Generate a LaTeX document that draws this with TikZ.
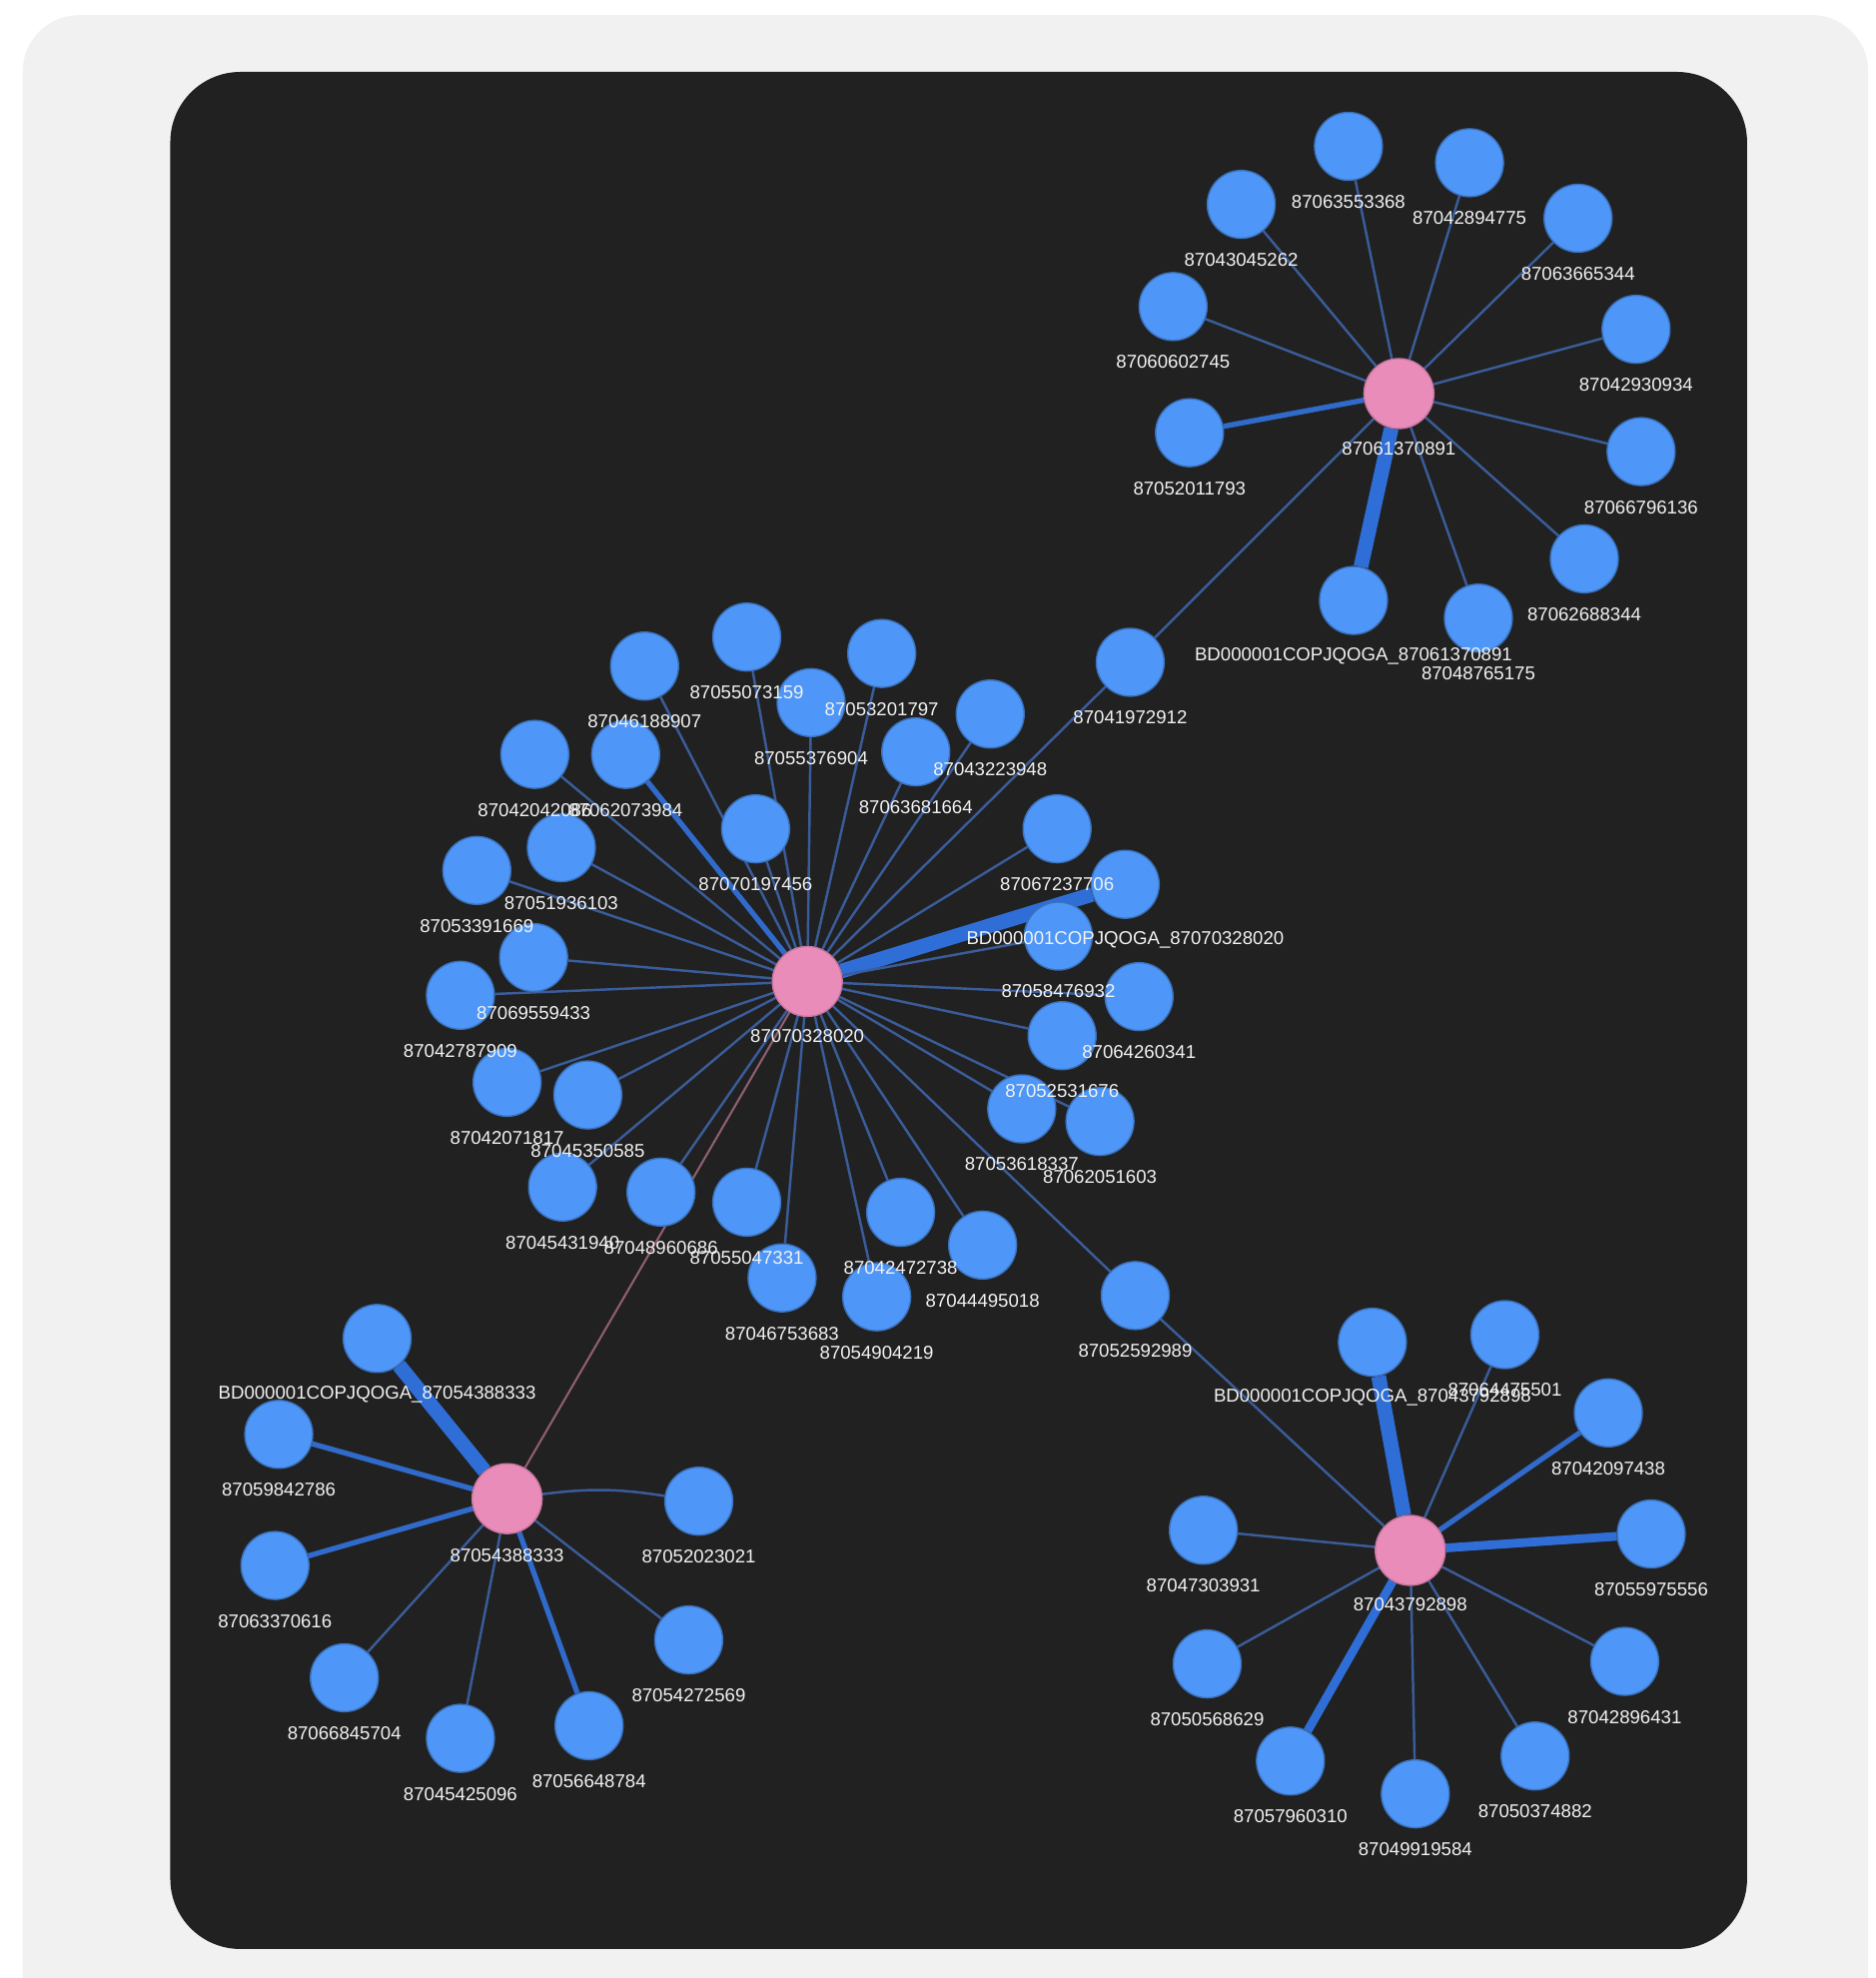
\documentclass[tikz,border=0pt]{standalone}
\usepackage{fontspec}
\setmainfont{Liberation Sans}
\usepackage{xcolor}

\definecolor{pagegray}{HTML}{F1F1F1}
\definecolor{panel}{HTML}{212121}
\definecolor{leafblue}{HTML}{4E96F8}
\definecolor{hubpink}{HTML}{E98CBA}
\definecolor{linkdim}{HTML}{3A5C99}
\definecolor{linkblue}{HTML}{2E6ED6}
\definecolor{linkrose}{HTML}{8E5F70}

\pgfdeclarelayer{bg}
\pgfdeclarelayer{links}
\pgfdeclarelayer{text}
\pgfsetlayers{bg,links,main,text}

\begin{document}
\begin{tikzpicture}[
  x=0.01263cm, y=-0.01263cm,
  leaf/.style={circle, fill=leafblue, draw=leafblue!75!black, line width=0.4pt,
               minimum size=0.68cm, inner sep=0pt},
  hub/.style={circle, fill=hubpink, draw=hubpink!85!black, line width=0.4pt,
              minimum size=0.70cm, inner sep=0pt},
  lbl/.style={font=\fontsize{5.3}{6}\selectfont, text=white!95!black, inner sep=0pt},
  ethin/.style={draw=linkdim, line width=0.7pt},
  emid/.style={draw=linkblue!80!linkdim, line width=1.5pt},
  ewide/.style={draw=linkblue, line width=2.5pt},
  ethick/.style={draw=linkblue, line width=4.2pt},
  ebow/.style={ethin, bend left=8},
  erose/.style={draw=linkrose, line width=0.6pt}
]
\useasboundingbox (0,0) rectangle (1487,1568);

% page and dark panel
\begin{pgfonlayer}{bg}
  \clip (0,0) rectangle (1487,1568);
  \fill[white] (0,0) rectangle (1487,1568);
  \fill[pagegray, rounded corners=16pt] (18,12) rectangle (1481,1640);
  \fill[panel, rounded corners=20pt] (135,57) rectangle (1385,1545);
\end{pgfonlayer}

% hubs
\node[hub] (hubc) at (640,778) {};
\node[hub] (hubt) at (1109,312) {};
\node[hub] (hubl) at (402,1188) {};
\node[hub] (hubr) at (1118,1229) {};
\begin{pgfonlayer}{text}
\foreach \n/\x/\y/\t in {hubc/640/821/87070328020, hubt/1109/356/87061370891,
                         hubl/402/1233/87054388333, hubr/1118/1272/87043792898}{
  \node[lbl] (\n-t) at (\x,\y) {\t};
}
\end{pgfonlayer}

% central cluster: 31 leaves
\foreach \n/\x/\y/\e/\t in {
  c01/592/505/ethin/87055073159, c02/511/528/ethin/87046188907,
  c03/699/518/ethin/87053201797, c04/643/557/ethin/87055376904,
  c05/785/566/ethin/87043223948, c06/726/596/ethin/87063681664,
  c07/896/525/ethin/87041972912, c08/424/598/ethin/87042042086,
  c09/496/598/emid/87062073984, c10/599/657/ethin/87070197456,
  c11/445/672/ethin/87051936103, c12/378/690/ethin/87053391669,
  c13/423/759/ethin/87069559433, c14/365/789/ethin/87042787909,
  c15/402/858/ethin/87042071817, c16/466/868/ethin/87045350585,
  c17/446/941/ethin/87045431940, c18/524/945/ethin/87048960686,
  c19/592/953/ethin/87055047331, c20/620/1013/ethin/87046753683,
  c21/714/961/ethin/87042472738, c22/695/1028/ethin/87054904219,
  c23/779/987/ethin/87044495018, c24/900/1027/ethin/87052592989,
  c25/838/657/ethin/87067237706, c26/892/701/ethick/BD000001COPJQOGA\_87070328020,
  c27/839/742/ethin/87058476932, c28/903/790/ethin/87064260341,
  c29/842/821/ethin/87052531676, c30/810/879/ethin/87053618337,
  c31/872/889/ethin/87062051603}{
  \node[leaf] (\n) at (\x,\y) {};
  \begin{pgfonlayer}{links}\draw[\e] (hubc) to (\n);\end{pgfonlayer}
  \begin{pgfonlayer}{text}\node[lbl] (\n-t) at (\x,\y+44) {\t};\end{pgfonlayer}
}

% top right cluster
\foreach \n/\x/\y/\e/\t in {
  t01/1069/116/ethin/87063553368, t02/1165/129/ethin/87042894775,
  t03/984/162/ethin/87043045262, t04/1251/173/ethin/87063665344,
  t05/930/243/ethin/87060602745, t06/1297/261/ethin/87042930934,
  t07/943/343/emid/87052011793, t08/1301/358/ethin/87066796136,
  t09/1256/443/ethin/87062688344, t10/1073/476/ethick/BD000001COPJQOGA\_87061370891,
  t11/1172/490/ethin/87048765175}{
  \node[leaf] (\n) at (\x,\y) {};
  \begin{pgfonlayer}{links}\draw[\e] (hubt) to (\n);\end{pgfonlayer}
  \begin{pgfonlayer}{text}\node[lbl] (\n-t) at (\x,\y+44) {\t};\end{pgfonlayer}
}

% bottom left cluster
\foreach \n/\x/\y/\e/\t in {
  l01/299/1061/ethick/BD000001COPJQOGA\_87054388333, l02/221/1137/emid/87059842786,
  l03/554/1190/ebow/87052023021, l04/218/1241/emid/87063370616,
  l05/273/1330/ethin/87066845704, l06/365/1378/ethin/87045425096,
  l07/467/1368/emid/87056648784, l08/546/1300/ethin/87054272569}{
  \node[leaf] (\n) at (\x,\y) {};
  \begin{pgfonlayer}{links}\draw[\e] (hubl) to (\n);\end{pgfonlayer}
  \begin{pgfonlayer}{text}\node[lbl] (\n-t) at (\x,\y+44) {\t};\end{pgfonlayer}
}

% bottom right cluster
\foreach \n/\x/\y/\e/\t in {
  r01/1088/1064/ethick/BD000001COPJQOGA\_87043792898, r02/1193/1058/ethin/87064475501,
  r03/1275/1120/emid/87042097438, r04/954/1213/ethin/87047303931,
  r05/1309/1216/ewide/87055975556, r06/957/1319/ethin/87050568629,
  r07/1288/1317/ethin/87042896431, r08/1023/1396/ewide/87057960310,
  r09/1122/1422/ethin/87049919584, r10/1217/1392/ethin/87050374882}{
  \node[leaf] (\n) at (\x,\y) {};
  \begin{pgfonlayer}{links}\draw[\e] (hubr) to (\n);\end{pgfonlayer}
  \begin{pgfonlayer}{text}\node[lbl] (\n-t) at (\x,\y+44) {\t};\end{pgfonlayer}
}

% links between clusters
\begin{pgfonlayer}{links}
  \draw[ethin] (hubt) -- (c07);
  \draw[ethin] (hubr) -- (c24);
  \draw[erose] (hubc) -- (hubl);
\end{pgfonlayer}
\end{tikzpicture}
\end{document}
